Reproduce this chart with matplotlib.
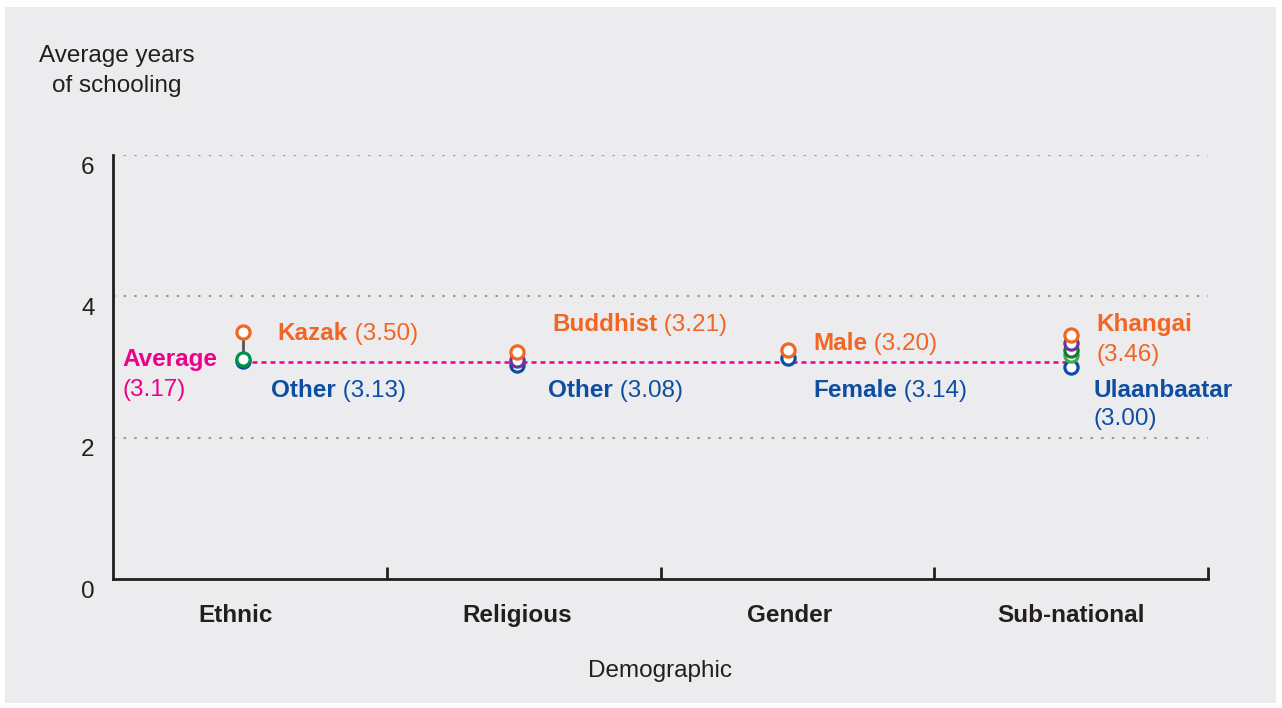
import matplotlib.pyplot as plt
import matplotlib.transforms as mtransforms
from matplotlib.patches import Rectangle

plt.rcParams["font.family"] = ["Liberation Sans", "DejaVu Sans"]

# data
categories = ["Ethnic", "Religious", "Gender", "Sub-national"]
y_ticks = [0, 2, 4, 6]
avg_value = 3.07          # where the dashed average line sits in the picture
avg_label = "(3.17)"

# per-category marker series, drawn bottom -> top (value, colour key)
ethnic_vals = [(3.08, "blue"), (3.11, "green"), (3.50, "orange")]
religious_vals = [(3.03, "blue"), (3.10, "purple"), (3.21, "orange")]
gender_vals = [(3.13, "blue"), (3.24, "orange")]
subnat_vals = [(3.00, "blue"), (3.17, "lgreen"), (3.24, "dgreen"),
               (3.34, "purple"), (3.45, "orange")]
series = [ethnic_vals, religious_vals, gender_vals, subnat_vals]

# labels: (category index, bold part, regular part, colour, dx, y)
labels = [
    (0, "Kazak", "(3.50)", "orange", 0.125, 3.47),
    (0, "Other", "(3.13)", "blue", 0.102, 2.67),
    (1, "Buddhist", "(3.21)", "orange", 0.129, 3.60),
    (1, "Other", "(3.08)", "blue", 0.114, 2.67),
    (2, "Male", "(3.20)", "orange", 0.092, 3.33),
    (2, "Female", "(3.14)", "blue", 0.092, 2.67),
]
two_line_labels = [
    (3, "Khangai", "(3.46)", "orange", 0.091, 3.60, 3.17),
    (3, "Ulaanbaatar", "(3.00)", "blue", 0.080, 2.67, 2.27),
]

colors = {
    "orange": "#F26522",
    "blue": "#0D4EA2",
    "green": "#00924A",
    "dgreen": "#177A3C",
    "lgreen": "#3DAE49",
    "purple": "#6E3694",
    "magenta": "#EC008C",
}
dark = "#231F20"
FS = 17.5

fig = plt.figure(figsize=(12.82, 7.08), dpi=100, facecolor="white")
fig.patches.append(Rectangle((5 / 1282, 5 / 708), 1271 / 1282, 696 / 708,
                             transform=fig.transFigure, facecolor="#ECECEE",
                             edgecolor="none", zorder=-10))
ax = fig.add_axes([113 / 1282, 1 - 579 / 708, 1095 / 1282, 424 / 708])
ax.set_facecolor("none")
ax.set_xlim(0, 4)
ax.set_ylim(0, 6)

# marker x-positions (slightly left of group centre as in the reference)
xpos = [0.475, 1.475, 2.465, 3.5]

# grid
for v in y_ticks[1:]:
    ax.axhline(v, color="#9A9A9A", lw=1.5, ls=(0, (1.2, 3.9)), zorder=1)

# average line
ax.plot([xpos[0], xpos[-1]], [avg_value, avg_value], color=colors["magenta"],
        lw=1.8, ls=(0, (2, 1.6)), zorder=2)

# connector in Ethnic
ax.vlines(xpos[0], ethnic_vals[1][0], ethnic_vals[2][0], color="#555555",
          lw=2, zorder=2)

for i, vals in enumerate(series):
    for k, (v, c) in enumerate(vals):
        ax.plot(xpos[i], v, "o", ms=9.5, mew=2.3, mfc="white",
                mec=colors[c], zorder=3 + k, clip_on=False)

def two_part(x, y, bold, reg, color):
    t = ax.text(x, y, bold, color=color, fontsize=FS, fontweight="bold",
                va="center", ha="left")
    ax.annotate(" " + reg, xy=(1, 0), xycoords=t, va="bottom", ha="left",
                color=color, fontsize=FS)

for i, b, r, c, dx, y in labels:
    two_part(xpos[i] + dx, y, b, r, colors[c])

for i, b, r, c, dx, y1, y2 in two_line_labels:
    ax.text(xpos[i] + dx, y1, b, color=colors[c], fontsize=FS,
            fontweight="bold", va="center", ha="left")
    ax.text(xpos[i] + dx, y2, r, color=colors[c], fontsize=FS,
            va="center", ha="left")

ax.text(0.033, 3.10, "Average", color=colors["magenta"], fontsize=FS,
        fontweight="bold", va="center", ha="left")
ax.text(0.033, 2.67, avg_label, color=colors["magenta"], fontsize=FS,
        va="center", ha="left")

# spines and ticks
for s in ["top", "right"]:
    ax.spines[s].set_visible(False)
for s in ["left", "bottom"]:
    ax.spines[s].set_color(dark)
    ax.spines[s].set_linewidth(2)
ax.set_yticks([])
ax.set_xticks([1, 2, 3, 4])
ax.set_xticklabels([])
ax.tick_params(axis="x", direction="in", length=9, width=2, color=dark)

ytrans = mtransforms.blended_transform_factory(fig.transFigure, ax.transData)
for v in y_ticks:
    ax.text(88 / 1282, v - 0.18, str(v), transform=ytrans, fontsize=FS,
            color=dark, ha="center", va="center")

for i, cat in enumerate(categories):
    cx = [0.446, 1.476, 2.47, 3.5][i]
    ax.text(cx, -0.52, cat, fontsize=FS, fontweight="bold", color=dark,
            ha="center", va="center")

fig.text(660 / 1282, 1 - 671 / 708, "Demographic", fontsize=FS, color=dark,
         ha="center", va="center")
fig.text(117 / 1282, 1 - 71 / 708, "Average years\nof schooling",
         fontsize=FS, color=dark, ha="center", va="center",
         multialignment="center", linespacing=1.45)

fig.savefig("out.png", dpi=100, facecolor="white")
